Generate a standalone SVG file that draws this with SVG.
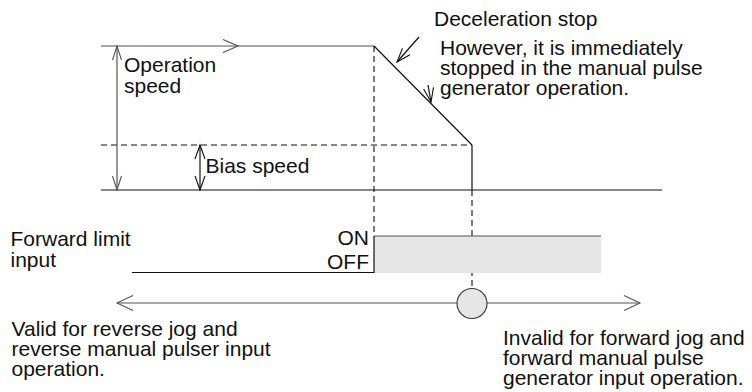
<svg xmlns="http://www.w3.org/2000/svg" width="752" height="392" viewBox="0 0 752 392">
<style>
  text { font-family: "Liberation Sans", Arial, sans-serif; font-size: 21px; fill: #111; }
  .k { stroke: #111; stroke-width: 1.2; fill: none; }
  .g { stroke: #555; stroke-width: 1.2; fill: none; }
  .d { stroke: #111; stroke-width: 1.1; fill: none; stroke-dasharray: 6 4; }
  .r { text-anchor: end; }
</style>
<defs>
  <marker id="ak" markerUnits="userSpaceOnUse" markerWidth="18" markerHeight="14" refX="15" refY="7" orient="auto-start-reverse">
    <path d="M1,2 L15,7 L1,12" fill="none" stroke="#111" stroke-width="1.1"/>
  </marker>
  <marker id="ag" markerUnits="userSpaceOnUse" markerWidth="18" markerHeight="14" refX="15" refY="7" orient="auto-start-reverse">
    <path d="M1,2.5 L15,7 L1,11.5" fill="none" stroke="#555" stroke-width="1.1"/>
  </marker>
  <marker id="aw" markerUnits="userSpaceOnUse" markerWidth="20" markerHeight="18" refX="17" refY="9" orient="auto-start-reverse">
    <path d="M1,1.5 L17,9 L1,16.5" fill="none" stroke="#555" stroke-width="1.1"/>
  </marker>
</defs>

<g id="speed-profile">
  <line class="g" x1="101" y1="46" x2="374" y2="46"/>
  <path class="g" d="M223,39.5 L238,46 L223,52.5"/>
  <line class="k" x1="374" y1="46" x2="472" y2="145"/>
  <line class="k" x1="472" y1="145" x2="472" y2="190"/>
  <line class="k" x1="101" y1="190" x2="662" y2="190"/>
  <line class="d" x1="101" y1="145" x2="472" y2="145"/>
  <line class="d" x1="374" y1="46" x2="374" y2="236"/>
  <line class="d" x1="472" y1="190" x2="472" y2="288"/>
</g>

<g id="connectors">
  <line class="g" x1="117" y1="46" x2="117" y2="190" marker-start="url(#ag)" marker-end="url(#ag)"/>
  <line class="k" x1="200" y1="145" x2="200" y2="190" marker-start="url(#ak)" marker-end="url(#ak)"/>
  <line class="k" x1="419" y1="37" x2="397" y2="62" marker-end="url(#ak)"/>
  <line class="k" x1="428" y1="85" x2="431" y2="102" marker-end="url(#ak)"/>
  <line class="g" x1="117" y1="303" x2="640" y2="303" marker-start="url(#aw)" marker-end="url(#aw)"/>
</g>

<g id="forward-limit-signal">
  <rect x="374" y="236" width="227" height="37" fill="#e6e6e6"/>
  <line class="g" x1="374" y1="236" x2="601" y2="236"/>
  <path class="k" d="M132,272.5 L374,272.5 L374,236"/>
</g>

<g id="limit-point">
  <circle cx="472" cy="303.5" r="15" fill="#e6e6e6" stroke="#333" stroke-width="1.1"/>
</g>

<g id="labels">
  <text x="434" y="26">Deceleration stop</text>
  <text x="440" y="55">However, it is immediately</text>
  <text x="440" y="75">stopped in the manual pulse</text>
  <text x="440" y="95">generator operation.</text>
  <text x="124" y="72">Operation</text>
  <text x="124" y="93">speed</text>
  <text x="205.5" y="173">Bias speed</text>
  <text x="10.5" y="246">Forward limit</text>
  <text x="10.5" y="267">input</text>
  <text class="r" x="369" y="245">ON</text>
  <text class="r" x="369" y="269">OFF</text>
  <text x="11.5" y="336">Valid for reverse jog and</text>
  <text x="11.5" y="356">reverse manual pulser input</text>
  <text x="11.5" y="376">operation.</text>
  <text x="503" y="345">Invalid for forward jog and</text>
  <text x="503" y="365">forward manual pulse</text>
  <text x="503" y="385">generator input operation.</text>
</g>
</svg>
